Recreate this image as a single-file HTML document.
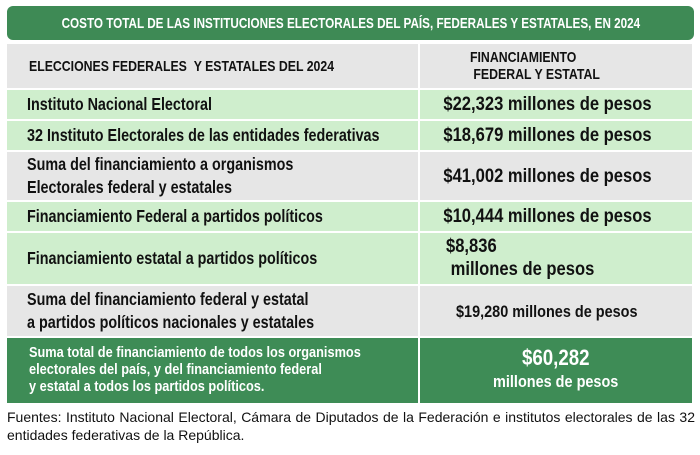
<!DOCTYPE html><html><head><style>
body{margin:0;width:700px;height:455px;background:#fff;position:relative;overflow:hidden;font-family:"Liberation Sans",sans-serif;font-weight:bold;color:#111}
div{position:absolute;box-sizing:border-box}
.c{display:flex;align-items:center;padding-left:20px;font-size:17.5px;line-height:23px}
.r{display:flex;align-items:center;justify-content:center;font-size:19.5px;line-height:21px;padding-right:18px}
.g{background:#cfeecd}.y{background:#e6e6e6}.d{background:#3e8c56;color:#fff}
.n{display:inline-block;transform:scaleX(.82);transform-origin:left center;white-space:nowrap}
.m{display:inline-block;transform:scaleX(.85);transform-origin:center center;white-space:nowrap}
</style></head><body>
<div style="left:7px;top:6px;width:687px;height:34px;background:#3e8a55;border-radius:6px;color:#fff;font-size:15px;display:flex;align-items:center;justify-content:center"><span class="m" style="transform:scaleX(.78)">COSTO TOTAL DE LAS INSTITUCIONES ELECTORALES DEL PAÍS, FEDERALES Y ESTATALES, EN 2024</span></div>
<div class="c y" style="left:7px;top:44px;width:411px;height:44px;font-size:15px;padding-left:22px"><span class="n">ELECCIONES FEDERALES &nbsp;Y ESTATALES DEL 2024</span></div>
<div class="y" style="left:420px;top:44px;width:272px;height:44px;font-size:15px;line-height:17px;padding:5px 0 0 50px"><span class="n">FINANCIAMIENTO<br>&nbsp;FEDERAL Y ESTATAL</span></div>
<div class="c g" style="left:7px;top:90px;width:411px;height:29px"><span class="n">Instituto Nacional Electoral</span></div>
<div class="r g" style="left:420px;top:90px;width:272px;height:29px"><span class="m">$22,323 millones de pesos</span></div>
<div class="c g" style="left:7px;top:121px;width:411px;height:29px"><span class="n">32 Instituto Electorales de las entidades federativas</span></div>
<div class="r g" style="left:420px;top:121px;width:272px;height:29px"><span class="m">$18,679 millones de pesos</span></div>
<div class="c y" style="left:7px;top:152px;width:411px;height:48px"><span class="n">Suma del financiamiento a organismos<br>Electorales federal y estatales</span></div>
<div class="r y" style="left:420px;top:152px;width:272px;height:48px"><span class="m">$41,002 millones de pesos</span></div>
<div class="c g" style="left:7px;top:202px;width:411px;height:29px"><span class="n">Financiamiento Federal a partidos políticos</span></div>
<div class="r g" style="left:420px;top:202px;width:272px;height:29px"><span class="m">$10,444 millones de pesos</span></div>
<div class="c g" style="left:7px;top:233px;width:411px;height:51px"><span class="n">Financiamiento estatal a partidos políticos</span></div>
<div class="g" style="left:420px;top:233px;width:272px;height:51px;font-size:19.5px;line-height:23px;padding:2px 0 0 26px"><span class="n" style="transform:scaleX(.85)">$8,836<br>&nbsp;millones de pesos</span></div>
<div class="c y" style="left:7px;top:286px;width:411px;height:50px"><span class="n">Suma del financiamiento federal y estatal<br>a partidos políticos nacionales y estatales</span></div>
<div class="r y" style="left:420px;top:286px;width:272px;height:50px;font-size:17px"><span class="m">$19,280 millones de pesos</span></div>
<div class="c d" style="left:7px;top:338px;width:411px;height:65px;font-size:14.5px;line-height:17px;padding-left:22px"><span class="n" style="transform:scaleX(.88)">Suma total de financiamiento de todos los organismos<br>electorales del país, y del financiamiento federal<br>y estatal a todos los partidos políticos.</span></div>
<div class="d" style="left:420px;top:338px;width:272px;height:65px;text-align:center;padding-top:7px"><span class="m" style="font-size:22px;line-height:26px">$60,282</span><br><span class="m" style="font-size:17px;line-height:22px">millones de pesos</span></div>
<div style="left:7px;top:408px;width:688px;font-weight:normal;font-size:14px;line-height:18px;text-align:justify;color:#111">Fuentes: Instituto Nacional Electoral, Cámara de Diputados de la Federación e institutos electorales de las 32 entidades federativas de la República.</div>
</body></html>
